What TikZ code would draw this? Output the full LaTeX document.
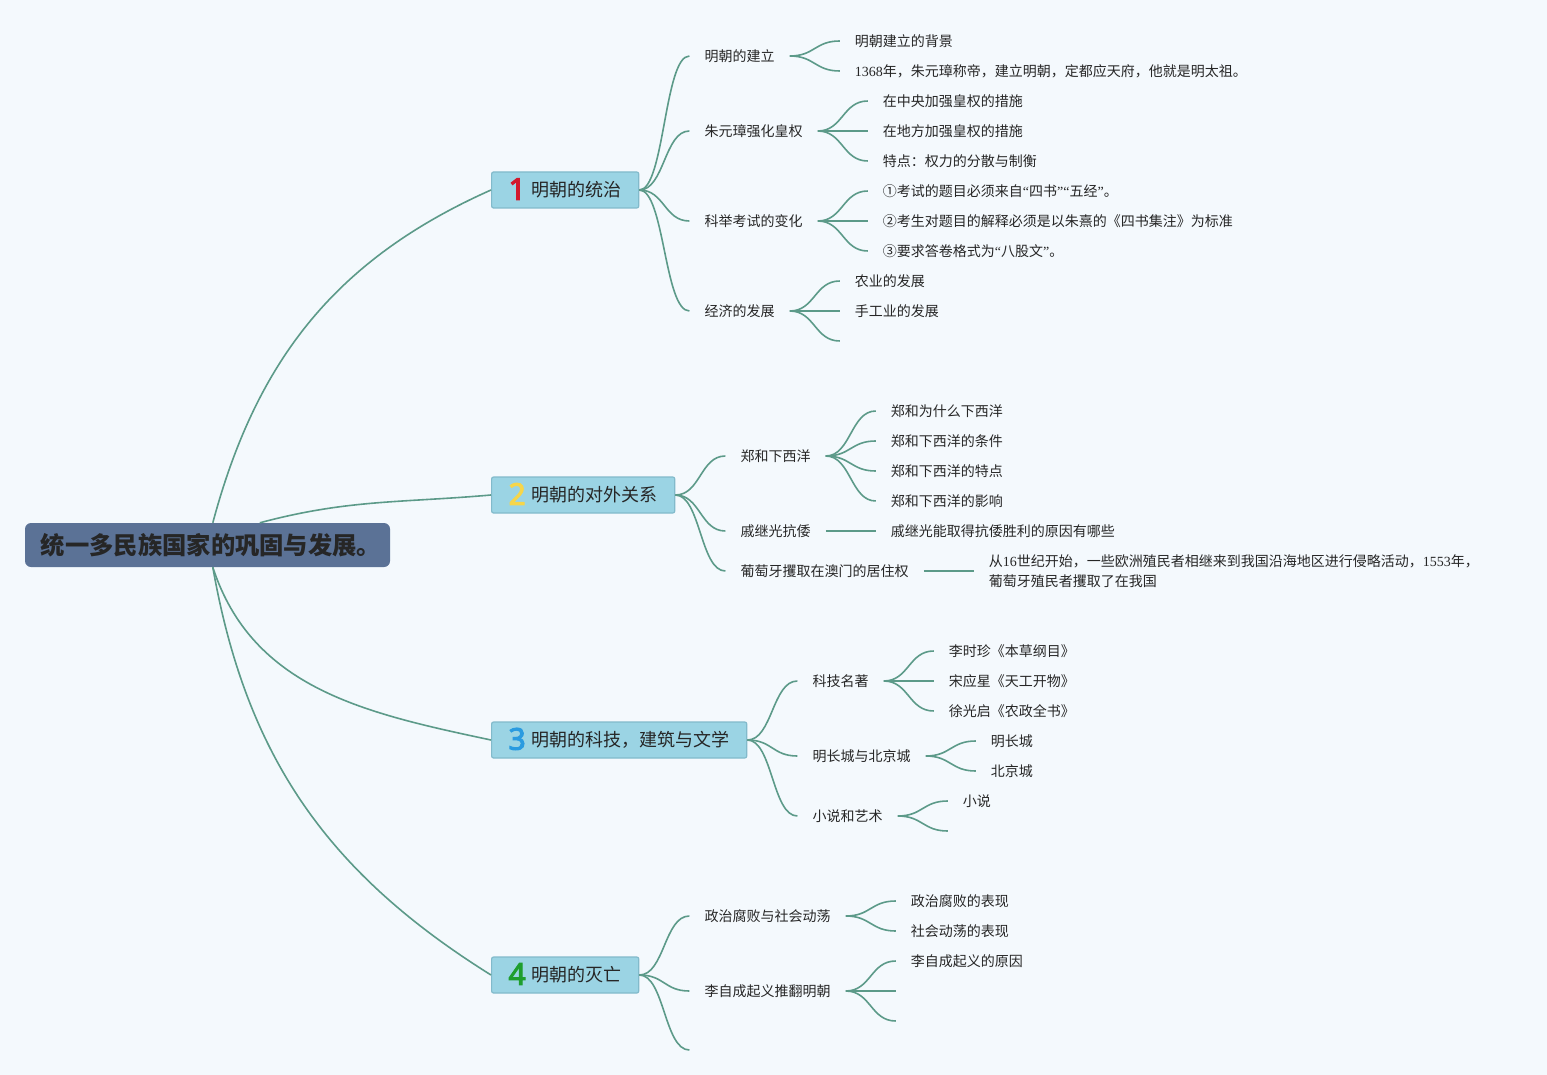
\documentclass[tikz,border=0pt]{standalone}
\usepackage{fontspec}
\setmainfont{Noto Sans CJK SC}
\newfontfamily\lsf{Liberation Serif}
\newfontfamily\numfont[FakeBold=3.5]{Noto Sans}
\usetikzlibrary{positioning}

\definecolor{bgc}{HTML}{F4F9FD}
\definecolor{lnc}{HTML}{5C9A89}
\definecolor{boxc}{HTML}{9BD4E4}
\definecolor{boxd}{HTML}{82BACB}
\definecolor{rootc}{HTML}{5B7296}
\definecolor{n1}{HTML}{D3192C}
\definecolor{n2}{HTML}{F6D64A}
\definecolor{n3}{HTML}{2A9BE0}
\definecolor{n4}{HTML}{1E9E2E}

% coloured number in front of a main topic
\newcommand\bignum[2]{\smash{\raisebox{-3pt}{\numfont\fontsize{30}{30}\selectfont\color{#1}#2}}\hspace{6pt}}

\begin{document}
\begin{tikzpicture}[x=1pt,y=-1pt,
    ln/.style={draw=lnc,line width=1.6pt},
    sc/.style={to path={.. controls +(25,0) and +(-25,0) .. (\tikztotarget)}},
    rootbox/.style={fill=rootc,rounded corners=6pt,minimum width=365pt,minimum height=44pt,inner sep=0pt,
        font=\fontsize{24.3}{26}\selectfont\bfseries,text=black!85},
    mbox/.style={fill=boxc,draw=boxd,line width=1.2pt,rounded corners=2pt,minimum height=36pt,
        inner xsep=17pt,inner ysep=0pt,anchor=west,font=\fontsize{18}{20}\selectfont,text=black!85},
    sub/.style={inner xsep=15pt,inner ysep=1pt,font=\fontsize{14}{16}\selectfont,text=black!85},
    lf/.style={sub,align=left,font=\fontsize{14}{20}\selectfont}]

    %background:
    \fill[bgc] (0,0) rectangle (1547,1075);

    %root and main topics:
    \node[rootbox] (root) at (207.5,545) {\hspace{7pt}统一多民族国家的巩固与发展。};
    \node[mbox] (m1) at (491,190) {\bignum{n1}{1}明朝的统治};
    \node[mbox] (m2) at (491,495) {\bignum{n2}{2}明朝的对外关系};
    \node[mbox] (m3) at (491,740) {\bignum{n3}{3}明朝的科技，建筑与文学};
    \node[mbox] (m4) at (491,975) {\bignum{n4}{4}明朝的灭亡};

    \draw[ln] ([xshift=188pt]root.north west) to[out=75,in=204] (m1.west);
    \draw[ln] ([xshift=235pt]root.north west) to[out=15,in=185] (m2.west);
    \draw[ln] ([xshift=188pt]root.south west) to[out=-72,in=168] (m3.west);
    \draw[ln] ([xshift=188pt]root.south west) to[out=-80,in=148] (m4.west);

    %topic 1:
    \node[sub, right=50pt of m1, yshift=134pt] (a1) {明朝的建立};
    \node[sub, right=50pt of m1, yshift=59pt] (a2) {朱元璋强化皇权};
    \node[sub, right=50pt of m1, yshift=-31pt] (a3) {科举考试的变化};
    \node[sub, right=50pt of m1, yshift=-121pt] (a4) {经济的发展};
    \draw[ln] (m1.east) edge[sc] (a1.west) edge[sc] (a2.west) edge[sc] (a3.west) edge[sc] (a4.west);

    \node[lf, right=50pt of a1, yshift=15pt] (a11) {明朝建立的背景};
    \node[lf, right=50pt of a1, yshift=-15pt] (a12) {{\lsf 1368}年，朱元璋称帝，建立明朝，定都应天府，他就是明太祖。};
    \draw[ln] (a1.east) edge[sc] (a11.west) edge[sc] (a12.west);

    \node[lf, right=50pt of a2, yshift=30pt] (a21) {在中央加强皇权的措施};
    \node[lf, right=50pt of a2] (a22) {在地方加强皇权的措施};
    \node[lf, right=50pt of a2, yshift=-30pt] (a23) {特点：权力的分散与制衡};
    \draw[ln] (a2.east) edge[sc] (a21.west) edge[sc] (a22.west) edge[sc] (a23.west);

    \node[lf, right=50pt of a3, yshift=30pt] (a31) {①考试的题目必须来自{\lsf “}四书{\lsf ”“}五经{\lsf ”}。};
    \node[lf, right=50pt of a3] (a32) {②考生对题目的解释必须是以朱熹的《四书集注》为标准};
    \node[lf, right=50pt of a3, yshift=-30pt] (a33) {③要求答卷格式为{\lsf “}八股文{\lsf ”}。};
    \draw[ln] (a3.east) edge[sc] (a31.west) edge[sc] (a32.west) edge[sc] (a33.west);

    \node[lf, right=50pt of a4, yshift=30pt] (a41) {农业的发展};
    \node[lf, right=50pt of a4] (a42) {手工业的发展};
    \coordinate (a43) at ([shift={(50,30)}]a4.east);
    \draw[ln] (a4.east) edge[sc] (a41.west) edge[sc] (a42.west) edge[sc] (a43);

    %topic 2:
    \node[sub, right=50pt of m2, yshift=39pt] (b1) {郑和下西洋};
    \node[sub, right=50pt of m2, yshift=-36pt] (b2) {戚继光抗倭};
    \node[sub, right=50pt of m2, yshift=-76pt] (b3) {葡萄牙攫取在澳门的居住权};
    \draw[ln] (m2.east) edge[sc] (b1.west) edge[sc] (b2.west) edge[sc] (b3.west);

    \node[lf, right=50pt of b1, yshift=45pt] (b11) {郑和为什么下西洋};
    \node[lf, right=50pt of b1, yshift=15pt] (b12) {郑和下西洋的条件};
    \node[lf, right=50pt of b1, yshift=-15pt] (b13) {郑和下西洋的特点};
    \node[lf, right=50pt of b1, yshift=-45pt] (b14) {郑和下西洋的影响};
    \draw[ln] (b1.east) edge[sc] (b11.west) edge[sc] (b12.west) edge[sc] (b13.west) edge[sc] (b14.west);

    \node[lf, right=50pt of b2] (b21) {戚继光能取得抗倭胜利的原因有哪些};
    \draw[ln] (b2.east) -- (b21.west);

    \node[lf, right=50pt of b3] (b31) {从{\lsf 16}世纪开始，一些欧洲殖民者相继来到我国沿海地区进行侵略活动，{\lsf 1553}年，\\葡萄牙殖民者攫取了在我国};
    \draw[ln] (b3.east) -- (b31.west);

    %topic 3:
    \node[sub, right=50pt of m3, yshift=59pt] (c1) {科技名著};
    \node[sub, right=50pt of m3, yshift=-16pt] (c2) {明长城与北京城};
    \node[sub, right=50pt of m3, yshift=-76pt] (c3) {小说和艺术};
    \draw[ln] (m3.east) edge[sc] (c1.west) edge[sc] (c2.west) edge[sc] (c3.west);

    \node[lf, right=50pt of c1, yshift=30pt] (c11) {李时珍《本草纲目》};
    \node[lf, right=50pt of c1] (c12) {宋应星《天工开物》};
    \node[lf, right=50pt of c1, yshift=-30pt] (c13) {徐光启《农政全书》};
    \draw[ln] (c1.east) edge[sc] (c11.west) edge[sc] (c12.west) edge[sc] (c13.west);

    \node[lf, right=50pt of c2, yshift=15pt] (c21) {明长城};
    \node[lf, right=50pt of c2, yshift=-15pt] (c22) {北京城};
    \draw[ln] (c2.east) edge[sc] (c21.west) edge[sc] (c22.west);

    \node[lf, right=50pt of c3, yshift=15pt] (c31) {小说};
    \coordinate (c32) at ([shift={(50,15)}]c3.east);
    \draw[ln] (c3.east) edge[sc] (c31.west) edge[sc] (c32);

    %topic 4:
    \node[sub, right=50pt of m4, yshift=59pt] (d1) {政治腐败与社会动荡};
    \node[sub, right=50pt of m4, yshift=-16pt] (d2) {李自成起义推翻明朝};
    \coordinate (d3) at ([shift={(50,75)}]m4.east);
    \draw[ln] (m4.east) edge[sc] (d1.west) edge[sc] (d2.west) edge[sc] (d3);

    \node[lf, right=50pt of d1, yshift=15pt] (d11) {政治腐败的表现};
    \node[lf, right=50pt of d1, yshift=-15pt] (d12) {社会动荡的表现};
    \draw[ln] (d1.east) edge[sc] (d11.west) edge[sc] (d12.west);

    \node[lf, right=50pt of d2, yshift=30pt] (d21) {李自成起义的原因};
    \coordinate (d22) at ([shift={(50,0)}]d2.east);
    \coordinate (d23) at ([shift={(50,30)}]d2.east);
    \draw[ln] (d2.east) edge[sc] (d21.west) edge[sc] (d22) edge[sc] (d23);

\end{tikzpicture}
\end{document}
